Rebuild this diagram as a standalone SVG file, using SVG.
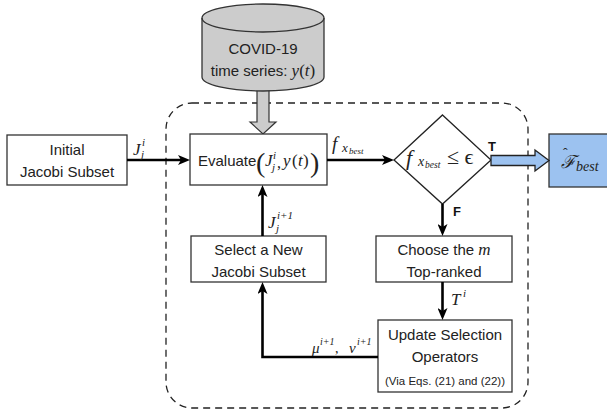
<svg xmlns="http://www.w3.org/2000/svg" width="607" height="412" viewBox="0 0 607 412">
  <style>
    .box { fill: #ffffff; stroke: #333333; stroke-width: 1.3; }
    .conn { fill: none; stroke: #000000; stroke-width: 2.6; }
    .t { font-family: "Liberation Sans", Arial, sans-serif; font-size: 15px; fill: #222222; }
    .small { font-size: 11.5px; }
    .b { font-family: "Liberation Sans", Arial, sans-serif; font-weight: bold; font-size: 13px; fill: #111111; }
    .mi { font-family: "Liberation Serif", "DejaVu Serif", serif; font-style: italic; fill: #222222; }
    .mr { font-family: "Liberation Serif", "DejaVu Serif", serif; font-style: normal; fill: #222222; }
  </style>
  <defs>
    <marker id="ah" viewBox="0 0 12 10" refX="6" refY="5" markerWidth="12" markerHeight="10" markerUnits="userSpaceOnUse" orient="auto">
      <path d="M0,0 L12,5 L0,10 L3,5 Z" fill="#000000"/>
    </marker>
  </defs>

  <rect width="607" height="412" fill="#ffffff"/>

  <!-- iteration loop boundary -->
  <rect id="loop" x="166" y="103" width="362" height="305" rx="26" ry="26" fill="none" stroke="#222222" stroke-width="1.3" stroke-dasharray="7 5"/>

  <!-- data source arrow into the evaluation step -->
  <g id="data-arrow">
    <polygon points="257,86 269,86 269,122 276,122 263,134 250,122 257,122" fill="#cccccc" stroke="#333333" stroke-width="1.2"/>
  </g>

  <!-- data source cylinder -->
  <g id="covid-data">
    <path d="M202,18 A61,14 0 0 1 324,18 V77 A61,14 0 0 1 202,77 Z" fill="#cccccc" stroke="#333333" stroke-width="1.3"/>
    <path d="M202,18 A61,14 0 0 0 324,18" fill="none" stroke="#333333" stroke-width="1.3"/>
    <text class="t" x="263" y="54" text-anchor="middle">COVID-19</text>
    <text class="t" x="263" y="76" text-anchor="middle">time series: <tspan class="mi" font-size="17">y</tspan><tspan class="mr" font-size="17">(</tspan><tspan class="mi" font-size="17">t</tspan><tspan class="mr" font-size="17">)</tspan></text>
  </g>

  <g id="initial">
    <rect class="box" x="7" y="135" width="120" height="50"/>
    <text class="t" x="67" y="155" text-anchor="middle">Initial</text>
    <text class="t" x="67" y="177" text-anchor="middle">Jacobi Subset</text>
  </g>

  <g id="evaluate">
    <rect class="box" x="190" y="134" width="137" height="51"/>
    <text class="t" x="198" y="166">Evaluate</text>
    <text class="mr" x="256" y="172" font-size="28">(</text>
    <text class="mi" x="265" y="166" font-size="17">J</text>
    <text class="mi" x="273" y="159" font-size="11">i</text>
    <text class="mi" x="272" y="171" font-size="11">j</text>
    <text class="mr" x="277" y="168" font-size="16">,</text>
    <text class="mi" x="283" y="166" font-size="17">y</text>
    <text class="mr" x="292" y="166" font-size="17">(</text>
    <text class="mi" x="298" y="166" font-size="17">t</text>
    <text class="mr" x="303" y="166" font-size="17">)</text>
    <text class="mr" x="310" y="172" font-size="28">)</text>
  </g>

  <g id="decision">
    <polygon points="442.5,115 491,160 442.5,204 394,160" fill="#ffffff" stroke="#222222" stroke-width="1.3"/>
    <text class="mi" x="406" y="165" font-size="22">f</text>
    <text class="mi" x="418" y="166" font-size="14">x</text>
    <text class="mi" x="425" y="168" font-size="9.5">best</text>
    <text class="mr" x="447" y="164" font-size="22">≤ ϵ</text>
  </g>

  <g id="best-model">
    <rect x="549" y="134" width="64" height="53" fill="#9cc2f0" stroke="#333333" stroke-width="1.3"/>
    <text class="mi" font-family="DejaVu Serif, serif"><tspan x="561" y="168" font-size="18">ℱ</tspan><tspan class="mr" x="563" y="158" font-size="14">ˆ</tspan><tspan class="mi" x="576" y="171" font-size="14" font-family="Liberation Serif, serif">best</tspan></text>
  </g>

  <g id="choose">
    <rect class="box" x="376" y="236" width="136" height="46"/>
    <text class="t" x="444" y="255" text-anchor="middle">Choose the <tspan class="mi" font-size="17">m</tspan></text>
    <text class="t" x="444" y="277" text-anchor="middle">Top-ranked</text>
  </g>

  <g id="select">
    <rect class="box" x="191" y="236" width="135" height="46"/>
    <text class="t" x="258.5" y="255" text-anchor="middle">Select a New</text>
    <text class="t" x="258.5" y="277" text-anchor="middle">Jacobi Subset</text>
  </g>

  <g id="update">
    <rect class="box" x="378" y="320" width="134" height="72"/>
    <text class="t" x="445" y="340" text-anchor="middle">Update Selection</text>
    <text class="t" x="445" y="362" text-anchor="middle">Operators</text>
    <text class="t small" x="445" y="385" text-anchor="middle">(Via Eqs. (21) and (22))</text>
  </g>

  <g id="connectors">
    <line class="conn" x1="127" y1="160" x2="184" y2="160" marker-end="url(#ah)"/>
    <line class="conn" x1="327" y1="160" x2="388" y2="160" marker-end="url(#ah)"/>
    <line class="conn" x1="442.5" y1="204" x2="442.5" y2="230" marker-end="url(#ah)"/>
    <line class="conn" x1="442.5" y1="282" x2="442.5" y2="314" marker-end="url(#ah)"/>
    <path class="conn" d="M378,357 H262.5 V288" marker-end="url(#ah)"/>
    <line class="conn" x1="262.5" y1="236" x2="262.5" y2="191" marker-end="url(#ah)"/>
    <polygon points="491,155.5 535,155.5 535,150 549,160.5 535,171 535,165.5 491,165.5" fill="#9cc2f0" stroke="#222222" stroke-width="1.3"/>
  </g>

  <!-- connector labels -->
  <g id="labels">
    <text class="mi" x="133" y="155" font-size="17">J</text>
    <text class="mi" x="142" y="146" font-size="11">i</text>
    <text class="mi" x="141" y="158" font-size="11">j</text>

    <text class="mi" x="332" y="150" font-size="19">f</text>
    <text class="mi" x="342" y="152" font-size="13">x</text>
    <text class="mi" x="349" y="154" font-size="9">best</text>

    <text class="b" x="488" y="151">T</text>
    <text class="b" x="453" y="216">F</text>

    <text class="mi" x="451" y="305" font-size="17">T</text>
    <text class="mi" x="463" y="297" font-size="11">i</text>

    <text class="mi" x="268" y="228" font-size="17">J</text>
    <text class="mi" x="277" y="219" font-size="11">i+1</text>
    <text class="mi" x="276" y="232" font-size="11">j</text>

    <text class="mi" x="312" y="353" font-size="15">μ</text>
    <text class="mi" x="320" y="345" font-size="10">i+1</text>
    <text class="mr" x="335" y="353" font-size="14">,</text>
    <text class="mi" x="349" y="353" font-size="15">ν</text>
    <text class="mi" x="357" y="345" font-size="10">i+1</text>
  </g>
</svg>
